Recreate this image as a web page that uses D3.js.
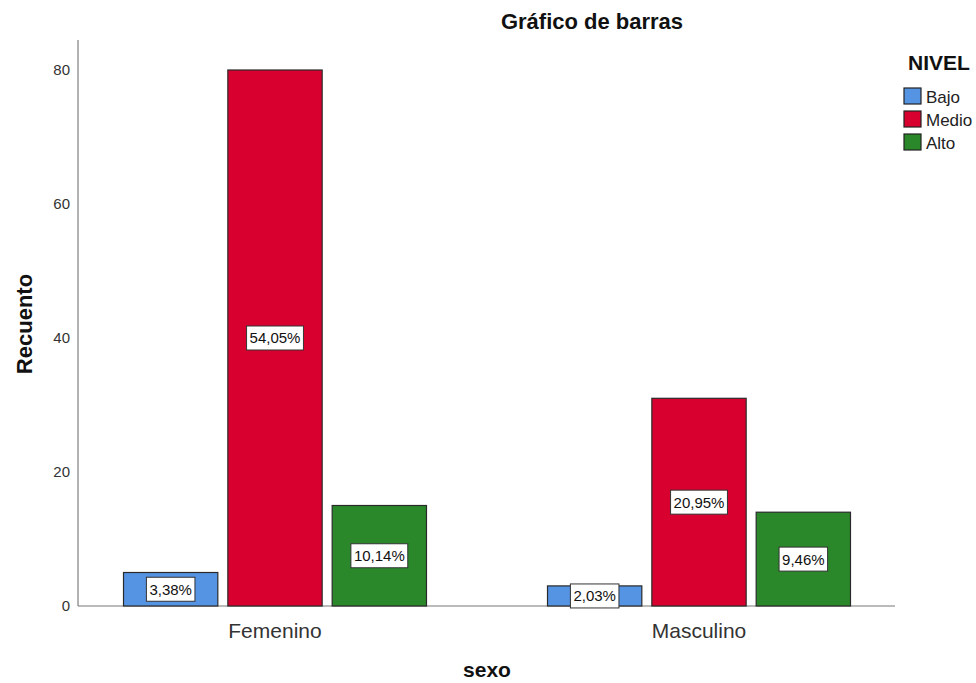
<!DOCTYPE html>
<html>
<head>
<meta charset="utf-8">
<script src="https://cdn.jsdelivr.net/npm/d3@7"></script>
<style>
  body { margin: 0; background: #fff; }
  svg { font-family: "Liberation Sans", Arial, sans-serif; }
</style>
</head>
<body>
<svg id="chart" width="976" height="683"></svg>
<script>
var sexos = ["Femenino", "Masculino"];
var niveles = ["Bajo", "Medio", "Alto"];
var recuento = {
  Femenino: [5, 80, 15],
  Masculino: [3, 31, 14]
};
var porcentajes = {
  Femenino: ["3,38%", "54,05%", "10,14%"],
  Masculino: ["2,03%", "20,95%", "9,46%"]
};
var yTicks = [0, 20, 40, 60, 80];
var colores = ["#5593e3", "#d7002e", "#2a882a"];

var svg = d3.select("#chart");

var x = d3.scaleBand()
  .domain(sexos)
  .range([63, 911])
  .padding(0);

var xn = d3.scaleBand()
  .domain(niveles)
  .range([0, x.bandwidth()])
  .paddingInner(0.096)
  .paddingOuter(0.58);

var y = d3.scaleLinear()
  .domain([0, 80])
  .range([606, 70]);

var color = d3.scaleOrdinal()
  .domain(niveles)
  .range(colores);

// ejes
svg.append("line")
  .attr("x1", 78).attr("x2", 78)
  .attr("y1", 40).attr("y2", y(0))
  .attr("stroke", "#999").attr("stroke-width", 1.5);

svg.append("line")
  .attr("x1", 78).attr("x2", 895)
  .attr("y1", y(0)).attr("y2", y(0))
  .attr("stroke", "#777").attr("stroke-width", 1);

svg.selectAll("text.ytick")
  .data(yTicks)
  .enter().append("text")
  .attr("class", "ytick")
  .attr("x", 70)
  .attr("y", function(d){ return y(d); })
  .attr("dy", "0.35em")
  .attr("text-anchor", "end")
  .attr("font-size", 15)
  .attr("fill", "#333")
  .text(function(d){ return d; });

svg.selectAll("text.xtick")
  .data(sexos)
  .enter().append("text")
  .attr("class", "xtick")
  .attr("x", function(d){ return x(d) + x.bandwidth() / 2; })
  .attr("y", 638)
  .attr("text-anchor", "middle")
  .attr("font-size", 21)
  .attr("fill", "#333")
  .text(function(d){ return d; });

// barras
var groups = svg.selectAll("g.grupo")
  .data(sexos)
  .enter().append("g")
  .attr("class", "grupo")
  .attr("transform", function(d){ return "translate(" + x(d) + ",0)"; });

var celdas = groups.selectAll("g.barra")
  .data(function(s){
    return niveles.map(function(n, i){
      return { sexo: s, nivel: n, valor: recuento[s][i], pct: porcentajes[s][i] };
    });
  })
  .enter().append("g")
  .attr("class", "barra");

celdas.append("rect")
  .attr("x", function(d){ return xn(d.nivel); })
  .attr("y", function(d){ return y(d.valor); })
  .attr("width", xn.bandwidth())
  .attr("height", function(d){ return y(0) - y(d.valor); })
  .attr("fill", function(d){ return color(d.nivel); })
  .attr("stroke", "#2a2a2a")
  .attr("stroke-width", 1.2);

celdas.each(function(d){
  var g = d3.select(this);
  var cx = xn(d.nivel) + xn.bandwidth() / 2,
      cy = (y(d.valor) + y(0)) / 2;
  var t = g.append("text")
    .attr("x", cx)
    .attr("y", cy)
    .attr("dy", "0.36em")
    .attr("text-anchor", "middle")
    .attr("font-size", 15)
    .attr("fill", "#111")
    .text(d.pct);
  var bb = t.node().getBBox();
  g.insert("rect", "text")
    .attr("x", bb.x - 3)
    .attr("y", cy - 12)
    .attr("width", bb.width + 6)
    .attr("height", 24)
    .attr("fill", "#fff")
    .attr("stroke", "#333")
    .attr("stroke-width", 1);
});

// titulos
svg.append("text")
  .attr("x", 592).attr("y", 29)
  .attr("text-anchor", "middle")
  .attr("font-size", 22).attr("font-weight", "bold")
  .attr("fill", "#111")
  .text("Gráfico de barras");

svg.append("text")
  .attr("transform", "translate(32,324) rotate(-90)")
  .attr("text-anchor", "middle")
  .attr("font-size", 22).attr("font-weight", "bold")
  .attr("fill", "#111")
  .text("Recuento");

svg.append("text")
  .attr("x", 487).attr("y", 677)
  .attr("text-anchor", "middle")
  .attr("font-size", 21).attr("font-weight", "bold")
  .attr("fill", "#111")
  .text("sexo");

// leyenda
var legend = svg.append("g").attr("transform", "translate(904,0)");
legend.append("text")
  .attr("x", 4).attr("y", 70)
  .attr("font-size", 21).attr("font-weight", "bold")
  .attr("fill", "#111")
  .text("NIVEL");

var items = legend.selectAll("g.item")
  .data(niveles)
  .enter().append("g")
  .attr("class", "item")
  .attr("transform", function(d, i){ return "translate(0," + (88 + i * 23) + ")"; });

items.append("rect")
  .attr("width", 17).attr("height", 16)
  .attr("fill", function(d){ return color(d); })
  .attr("stroke", "#222").attr("stroke-width", 1.2);

items.append("text")
  .attr("x", 22).attr("y", 9)
  .attr("dy", "0.36em")
  .attr("font-size", 17)
  .attr("fill", "#222")
  .text(function(d){ return d; });
</script>
</body>
</html>
